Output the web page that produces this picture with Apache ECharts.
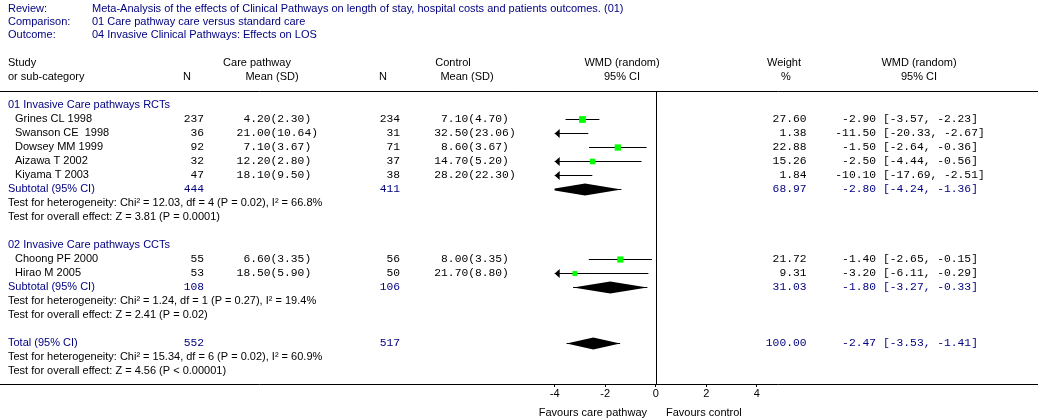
<!DOCTYPE html>
<html><head><meta charset="utf-8">
<script src="https://cdn.jsdelivr.net/npm/echarts@6/dist/echarts.min.js"></script>
<style>html,body{margin:0;padding:0;background:#fff}#c{width:1038px;height:420px}</style>
</head><body><div id="c"></div>
<script>
// ---------------- DATA ----------------
const metaLabels = ['Review:', 'Comparison:', 'Outcome:'];
const metaValues = ['Meta-Analysis of the effects of Clinical Pathways on length of stay, hospital costs and patients outcomes. (01)',
  '01 Care pathway care versus standard care',
  '04 Invasive Clinical Pathways: Effects on LOS'];
const groupNames = ['01 Invasive Care pathways RCTs', '02 Invasive Care pathways CCTs'];
const studyNames = ['Grines CL 1998', 'Swanson CE  1998', 'Dowsey MM 1999', 'Aizawa T 2002', 'Kiyama T 2003', 'Choong PF 2000', 'Hirao M 2005'];
const studyGroup = [0, 0, 0, 0, 0, 1, 1];
const careN = [237, 36, 92, 32, 47, 55, 53];
const careMean = [4.20, 21.00, 7.10, 12.20, 18.10, 6.60, 18.50];
const careSD = [2.30, 10.64, 3.67, 2.80, 9.50, 3.35, 5.90];
const controlN = [234, 31, 71, 37, 38, 56, 50];
const controlMean = [7.10, 32.50, 8.60, 14.70, 28.20, 8.00, 21.70];
const controlSD = [4.70, 23.06, 3.67, 5.20, 22.30, 3.35, 8.80];
const studyWeight = [27.60, 1.38, 22.88, 15.26, 1.84, 21.72, 9.31];
const studyWMD = [-2.90, -11.50, -1.50, -2.50, -10.10, -1.40, -3.20];
const studyLow = [-3.57, -20.33, -2.64, -4.44, -17.69, -2.65, -6.11];
const studyHigh = [-2.23, -2.67, -0.36, -0.56, -2.51, -0.15, -0.29];
// pooled: subtotal group 1, subtotal group 2, total
const pooledLabels = ['Subtotal (95% CI)', 'Subtotal (95% CI)', 'Total (95% CI)'];
const pooledCareN = [444, 108, 552];
const pooledControlN = [411, 106, 517];
const pooledWeight = [68.97, 31.03, 100.00];
const pooledWMD = [-2.80, -1.80, -2.47];
const pooledLow = [-4.24, -3.27, -3.53];
const pooledHigh = [-1.36, -0.33, -1.41];
const hetTexts = ['Test for heterogeneity: Chi\u00b2 = 12.03, df = 4 (P = 0.02), I\u00b2 = 66.8%',
  'Test for heterogeneity: Chi\u00b2 = 1.24, df = 1 (P = 0.27), I\u00b2 = 19.4%',
  'Test for heterogeneity: Chi\u00b2 = 15.34, df = 6 (P = 0.02), I\u00b2 = 60.9%'];
const effectTexts = ['Test for overall effect: Z = 3.81 (P = 0.0001)',
  'Test for overall effect: Z = 2.41 (P = 0.02)',
  'Test for overall effect: Z = 4.56 (P < 0.00001)'];
const tickValues = [-4, -2, 0, 2, 4];
const PLOT_MIN = -4, PLOT_MAX = 4;
const favourLeft = 'Favours care pathway', favourRight = 'Favours control';

// ---------------- LAYOUT ----------------
const NAVY = '#000080', BLACK = '#000000';
const SANS = '"Liberation Sans", Arial, sans-serif';
const MONO = '"Liberation Mono", "Courier New", monospace';
const SANS_SIZE = 11, MONO_SIZE = 11.3;
const ZERO_PX = 655.7, UNIT_PX = 25.25, W = 1038;
const COL = { label: 8, study: 15, careN: 204, careSplit: 270.5, ctrlN: 400, ctrlSplit: 468.2, weight: 806.5, wmd: 876, ci: 883 };

const textItems = [];
const studyMarks = [];
const pooledMarks = [];
function addText(row, x, text, opt) {
  textItems.push(Object.assign({ row, x, text, align: 'left', color: BLACK, mono: false }, opt || {}));
}
const f2 = v => v.toFixed(2);
function addNumbers(row, cN, ctN, w, est, lo, hi, color, means) {
  addText(row, COL.careN, String(cN), { align: 'right', mono: true, color });
  addText(row, COL.ctrlN, String(ctN), { align: 'right', mono: true, color });
  if (means) {
    addText(row, COL.careSplit, f2(means[0]), { align: 'right', mono: true, color });
    addText(row, COL.careSplit, '(' + f2(means[1]) + ')', { align: 'left', mono: true, color });
    addText(row, COL.ctrlSplit, f2(means[2]), { align: 'right', mono: true, color });
    addText(row, COL.ctrlSplit, '(' + f2(means[3]) + ')', { align: 'left', mono: true, color });
  }
  addText(row, COL.weight, f2(w), { align: 'right', mono: true, color });
  addText(row, COL.wmd, f2(est), { align: 'right', mono: true, color });
  addText(row, COL.ci, '[' + f2(lo) + ', ' + f2(hi) + ']', { align: 'left', mono: true, color });
}
let r = 0;
groupNames.forEach((g, gi) => {
  addText(r, COL.label, g, { color: NAVY }); r++;
  studyNames.forEach((s, i) => {
    if (studyGroup[i] !== gi) return;
    addText(r, COL.study, s);
    addNumbers(r, careN[i], controlN[i], studyWeight[i], studyWMD[i], studyLow[i], studyHigh[i], BLACK,
      [careMean[i], careSD[i], controlMean[i], controlSD[i]]);
    studyMarks.push([studyWMD[i], studyLow[i], studyHigh[i], r, studyWeight[i]]);
    r++;
  });
  addText(r, COL.label, pooledLabels[gi], { color: NAVY });
  addNumbers(r, pooledCareN[gi], pooledControlN[gi], pooledWeight[gi], pooledWMD[gi], pooledLow[gi], pooledHigh[gi], NAVY);
  pooledMarks.push([pooledWMD[gi], pooledLow[gi], pooledHigh[gi], r]); r++;
  addText(r, COL.label, hetTexts[gi]); r++;
  addText(r, COL.label, effectTexts[gi]); r++;
  r++;
});
{
  const k = 2;
  addText(r, COL.label, pooledLabels[k], { color: NAVY });
  addNumbers(r, pooledCareN[k], pooledControlN[k], pooledWeight[k], pooledWMD[k], pooledLow[k], pooledHigh[k], NAVY);
  pooledMarks.push([pooledWMD[k], pooledLow[k], pooledHigh[k], r]); r++;
  addText(r, COL.label, hetTexts[k]); r++;
  addText(r, COL.label, effectTexts[k]); r++;
}

// ---------------- RENDER ----------------
const chart = echarts.init(document.getElementById('c'), null, { renderer: 'canvas' });
const px = v => Math.round(v) + 0.5;

function renderStudy(params, api) {
  const est = api.value(0), lo = api.value(1), hi = api.value(2), row = api.value(3), w = api.value(4);
  const y = px(api.coord([0, row])[1]);
  const xl = api.coord([Math.max(lo, PLOT_MIN), row])[0];
  const xh = api.coord([Math.min(hi, PLOT_MAX), row])[0];
  const children = [{ type: 'line', shape: { x1: xl, y1: y, x2: xh, y2: y }, style: { stroke: BLACK, lineWidth: 1 } }];
  if (lo < PLOT_MIN) children.push({ type: 'polygon', shape: { points: [[xl, y], [xl + 5, y - 4.5], [xl + 5, y + 4.5]] }, style: { fill: BLACK } });
  if (hi > PLOT_MAX) children.push({ type: 'polygon', shape: { points: [[xh, y], [xh - 5, y - 4.5], [xh - 5, y + 4.5]] }, style: { fill: BLACK } });
  if (est >= PLOT_MIN && est <= PLOT_MAX) {
    const s = 4 + w * 0.1;
    const xm = api.coord([est, row])[0];
    children.push({ type: 'rect', shape: { x: xm - s / 2, y: y - s / 2, width: s, height: s }, style: { fill: '#00ff00' } });
  }
  return { type: 'group', children };
}
function renderPooled(params, api) {
  const est = api.value(0), lo = api.value(1), hi = api.value(2), row = api.value(3);
  const y = px(api.coord([0, row])[1]);
  const H = 6;
  const xm = api.coord([est, row])[0];
  const xlRaw = api.coord([lo, row])[0], xhRaw = api.coord([hi, row])[0];
  const xl = api.coord([Math.max(lo, PLOT_MIN), row])[0];
  const xh = api.coord([Math.min(hi, PLOT_MAX), row])[0];
  const pts = [];
  if (xl > xlRaw) { const hh = H * (xl - xlRaw) / (xm - xlRaw); pts.push([xl, y + hh], [xl, y - hh]); } else pts.push([xl, y]);
  pts.push([xm, y - H]);
  if (xh < xhRaw) { const hh = H * (xhRaw - xh) / (xhRaw - xm); pts.push([xh, y - hh], [xh, y + hh]); } else pts.push([xh, y]);
  pts.push([xm, y + H]);
  return { type: 'group', children: [
    { type: 'line', shape: { x1: xl, y1: y, x2: xh, y2: y }, style: { stroke: BLACK, lineWidth: 1 } },
    { type: 'polygon', shape: { points: pts }, style: { fill: BLACK } }
  ] };
}
function renderZero(params, api) {
  const cs = params.coordSys;
  const x = px(api.coord([api.value(0), 0])[0]);
  return { type: 'line', shape: { x1: x, y1: cs.y, x2: x, y2: cs.y + cs.height }, style: { stroke: BLACK, lineWidth: 1 } };
}
function renderText(params, api) {
  const t = textItems[params.dataIndex];
  const y = api.coord([0, api.value(0)])[1];
  return { type: 'text', x: t.x, y: y, style: {
    text: t.text, fill: t.color, fontFamily: t.mono ? MONO : SANS, fontSize: t.mono ? MONO_SIZE : SANS_SIZE,
    align: t.align, textAlign: t.align, verticalAlign: 'middle', textVerticalAlign: 'middle' } };
}

const gTexts = [];
function gText(x, y, text, align, color) {
  gTexts.push({ type: 'text', x, y, silent: true, style: { text, fill: color || BLACK, fontFamily: SANS, fontSize: SANS_SIZE,
    align: align, textAlign: align, verticalAlign: 'middle', textVerticalAlign: 'middle' } });
}
metaLabels.forEach((l, i) => { gText(8, 9 + 13 * i, l, 'left', NAVY); gText(92, 9 + 13 * i, metaValues[i], 'left', NAVY); });
gText(8, 63, 'Study', 'left'); gText(257, 63, 'Care pathway', 'center'); gText(453, 63, 'Control', 'center');
gText(622, 63, 'WMD (random)', 'center'); gText(784, 63, 'Weight', 'center'); gText(919, 63, 'WMD (random)', 'center');
gText(8, 77, 'or sub-category', 'left'); gText(187, 77, 'N', 'center'); gText(272, 77, 'Mean (SD)', 'center');
gText(383, 77, 'N', 'center'); gText(467, 77, 'Mean (SD)', 'center'); gText(622, 77, '95% CI', 'center');
gText(786, 77, '%', 'center'); gText(919, 77, '95% CI', 'center');
gText(647, 413, favourLeft, 'right'); gText(666, 413, favourRight, 'left');

const xMin = -ZERO_PX / UNIT_PX, xMax = (W - ZERO_PX) / UNIT_PX;
chart.setOption({
  animation: false,
  backgroundColor: '#fff',
  grid: { left: 0, right: 0, top: 91, bottom: 36, containLabel: false },
  xAxis: [
    { type: 'value', min: xMin, max: xMax, position: 'bottom',
      axisLine: { show: true, onZero: false, lineStyle: { color: BLACK, width: 1 } },
      axisTick: { show: true, length: 3, customValues: tickValues, lineStyle: { color: BLACK } },
      axisLabel: { show: true, customValues: tickValues, color: BLACK, fontFamily: SANS, fontSize: SANS_SIZE, margin: 4 },
      splitLine: { show: false } },
    { type: 'value', min: xMin, max: xMax, position: 'top',
      axisLine: { show: true, onZero: false, lineStyle: { color: BLACK, width: 1 } },
      axisTick: { show: false }, axisLabel: { show: false }, splitLine: { show: false } }
  ],
  yAxis: { type: 'value', min: -1, max: 19.93, inverse: true, show: false },
  graphic: { elements: gTexts },
  series: [
    { type: 'custom', clip: false, renderItem: renderZero, data: [[0]], silent: true },
    { type: 'custom', clip: false, renderItem: renderStudy, data: studyMarks, silent: true },
    { type: 'custom', clip: false, renderItem: renderPooled, data: pooledMarks, silent: true },
    { type: 'custom', clip: false, renderItem: renderText, data: textItems.map(t => [t.row]), silent: true }
  ]
});
</script></body></html>
